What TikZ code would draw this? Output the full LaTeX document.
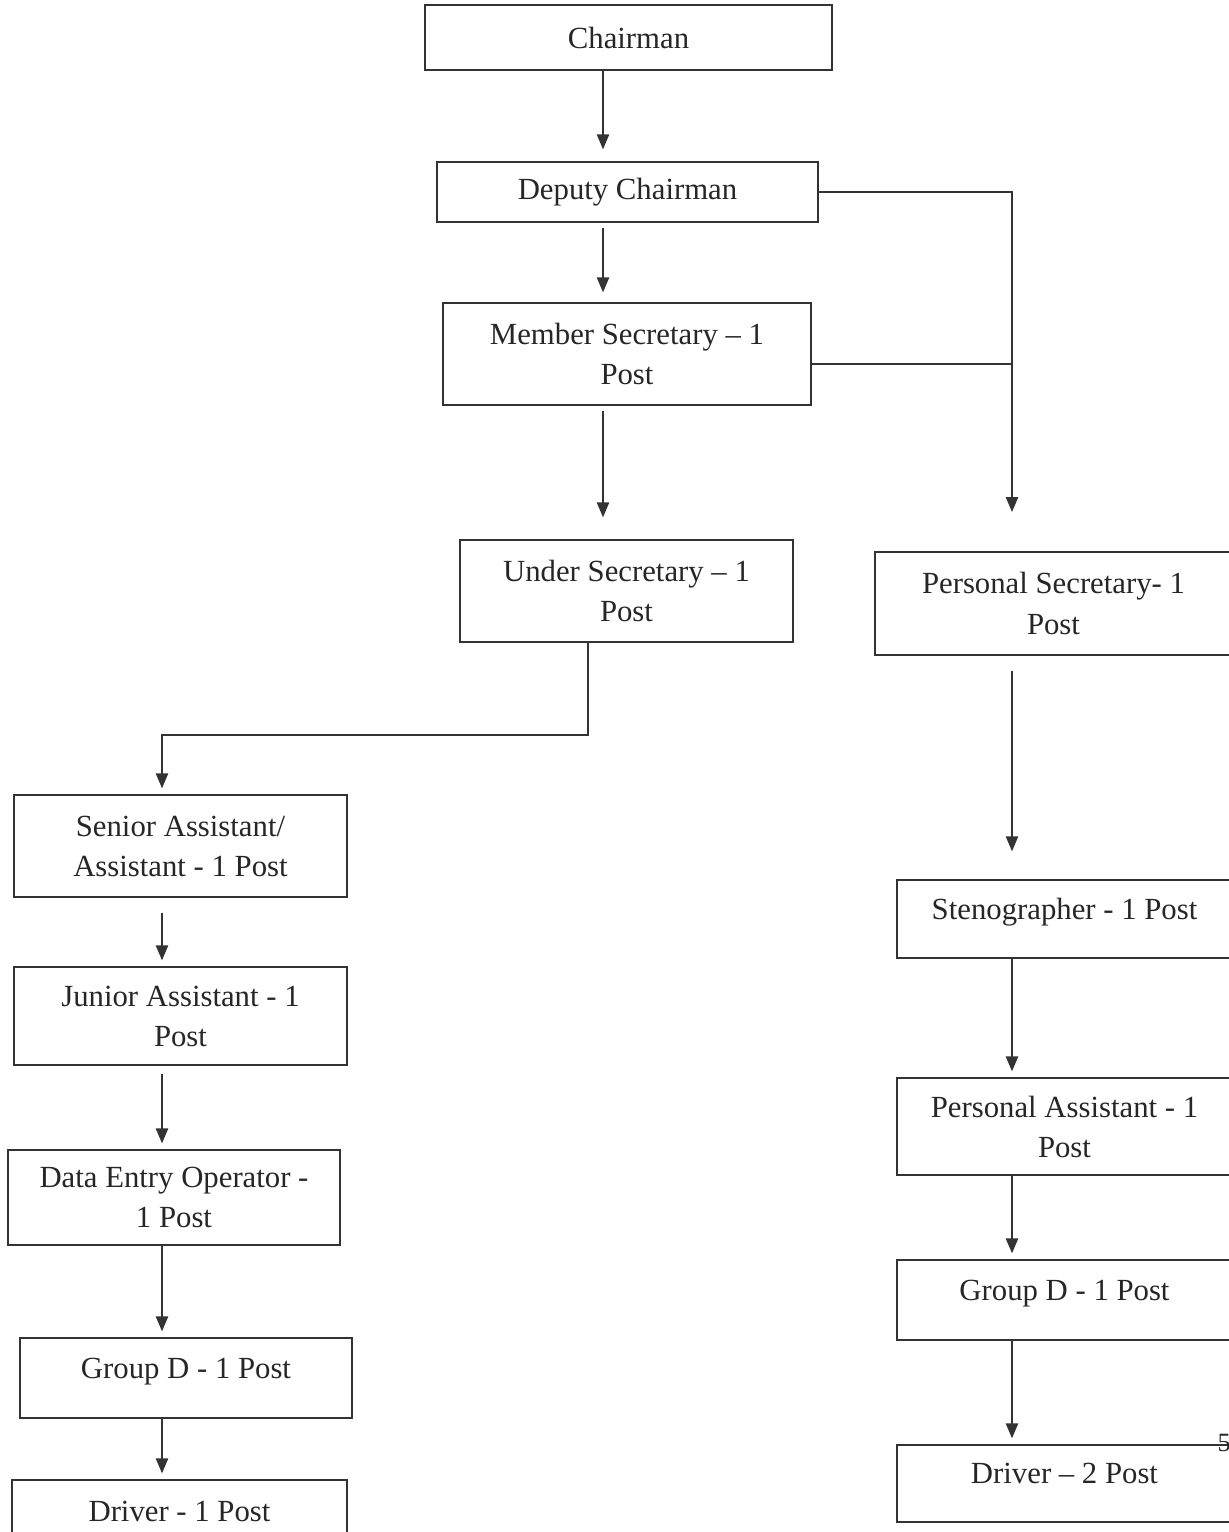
\documentclass[tikz,border=0pt]{standalone}
\usepackage{fontspec}
\setmainfont{Liberation Serif}
\usetikzlibrary{arrows.meta}
\tikzset{
every picture/.style={
line width=0.8pt
}}

\begin{document}
\begin{tikzpicture}[x=0.02cm, y=-0.02cm,
post/.style = {rectangle, draw=black!80, align=center, inner sep=0pt, text=black!85, font=\fontsize{17.5}{22.8}\selectfont},
raised/.style = {text height=12pt, text depth=12pt},
link/.style = {draw=black!80, -{Triangle[length=8.5pt,width=7pt]}},
wire/.style = {draw=black!80}]
\useasboundingbox (0,0) rectangle (1228,1532);

\node[post, minimum width=8.14cm, minimum height=1.3cm] (chair) at (628.5,37.5) {Chairman};
\node[post, minimum width=7.62cm, minimum height=1.2cm] (dep) at (627.5,192) {Deputy Chairman};
\node[post, minimum width=7.36cm, minimum height=2.04cm] (ms) at (627,354) {Member Secretary -- 1\\Post};
\node[post, minimum width=6.66cm, minimum height=2.04cm] (us) at (626.5,591) {Under Secretary -- 1\\Post};
\node[post, minimum width=7.14cm, minimum height=2.06cm] (ps) at (1053.5,603.5) {Personal Secretary- 1\\Post};

\node[post, minimum width=6.66cm, minimum height=2.04cm] (sa) at (180.5,846) {Senior Assistant/\\Assistant - 1 Post};
\node[post, minimum width=6.66cm, minimum height=1.96cm] (ja) at (180.5,1016) {Junior Assistant - 1\\Post};
\node[post, minimum width=6.64cm, minimum height=1.9cm] (deo) at (174,1197.5) {Data Entry Operator -\\1 Post};
\node[post, raised, minimum width=6.64cm, minimum height=1.6cm] (gdl) at (186,1378) {Group D - 1 Post};
\node[post, raised, minimum width=6.7cm, minimum height=1.64cm] (drl) at (179.5,1521) {Driver - 1 Post};

\node[post, raised, minimum width=6.7cm, minimum height=1.56cm] (steno) at (1064.5,919) {Stenographer - 1 Post};
\node[post, minimum width=6.7cm, minimum height=1.94cm] (pa) at (1064.5,1126.5) {Personal Assistant - 1\\Post};
\node[post, raised, minimum width=6.7cm, minimum height=1.6cm] (gdr) at (1064.5,1300) {Group D - 1 Post};
\node[post, raised, minimum width=6.7cm, minimum height=1.54cm] (drr) at (1064.5,1483.5) {Driver -- 2 Post};

\node[anchor=south west, inner sep=0pt, text=black!85, font=\fontsize{15}{18}\selectfont] (pgno) at (1217,1452) {5};

\coordinate (mcol) at (603,0);
\coordinate (rcol) at (1012,512);
\coordinate (msj) at (1012,364);
\coordinate (lbend) at (588,735);
\coordinate (lcol) at (162,735);

\draw[link, shorten >=0.24cm] (chair.south -| mcol) -- (dep.north -| mcol);
\draw[link, shorten <=0.1cm, shorten >=0.2cm] (dep.south -| mcol) -- (ms.north -| mcol);
\draw[link] (dep.east) -| (rcol);
\draw[wire] (ms.east |- msj) -- (msj);
\draw[link, shorten <=0.1cm, shorten >=0.44cm] (ms.south -| mcol) -- (us.north -| mcol);
\draw[link, shorten >=0.12cm] (us.south -| lbend) -- (lbend) -- (lcol) -- (sa.north -| lcol);
\draw[link, shorten <=0.3cm, shorten >=0.12cm] (sa.south -| lcol) -- (ja.north -| lcol);
\draw[link, shorten <=0.16cm, shorten >=0.12cm] (ja.south -| lcol) -- (deo.north -| lcol);
\draw[link, shorten >=0.12cm] (deo.south -| lcol) -- (gdl.north -| lcol);
\draw[link, shorten >=0.12cm] (gdl.south -| lcol) -- (drl.north -| lcol);

\draw[link, shorten <=0.3cm, shorten >=0.56cm] (ps.south -| rcol) -- (steno.north -| rcol);
\draw[link, shorten >=0.12cm] (steno.south -| rcol) -- (pa.north -| rcol);
\draw[link, shorten >=0.12cm] (pa.south -| rcol) -- (gdr.north -| rcol);
\draw[link, shorten >=0.12cm] (gdr.south -| rcol) -- (drr.north -| rcol);
\end{tikzpicture}
\end{document}
